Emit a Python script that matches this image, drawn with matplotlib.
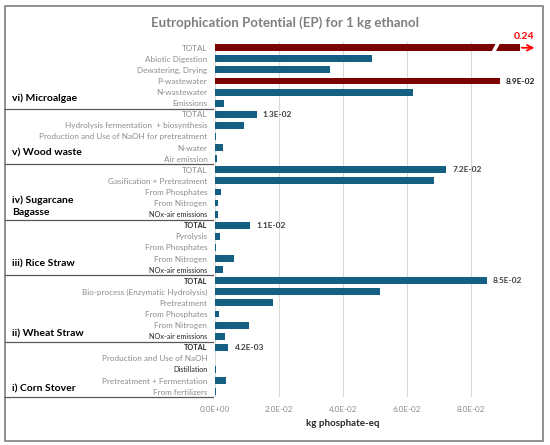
import numpy as np
import matplotlib
matplotlib.use("Agg")
from matplotlib import pyplot as plt
from matplotlib import transforms
from matplotlib.patches import Polygon, Rectangle
from matplotlib.lines import Line2D

plt.rcParams['font.family'] = ['Lato', 'DejaVu Sans']

# datos por grupo (de arriba hacia abajo)
microalgae_labels = ["TOTAL", "Abiotic Digestion", "Dewatering, Drying", "P-wastewater",
                     "N-wastewater", "Emissions"]
microalgae_values = [0.24, 0.049, 0.036, 0.089, 0.062, 0.0028]

wood_labels = ["TOTAL", "Hydrolysis fermentation  + biosynthesis",
               "Production and Use of NaOH for pretreatment", "N-water", "Air emission"]
wood_values = [0.013, 0.0091, 0.0004, 0.0025, 0.0007]

sugarcane_labels = ["TOTAL", "Gasification + Pretreatment", "From Phosphates",
                    "From Nitrogen", "NOx-air emissions"]
sugarcane_values = [0.0722, 0.0683, 0.002, 0.0008, 0.0008]

rice_labels = ["TOTAL", "Pyrolysis", "From Phosphates", "From Nitrogen", "NOx-air emissions"]
rice_values = [0.011, 0.0016, 0.0003, 0.0058, 0.0025]

wheat_labels = ["TOTAL", "Bio-process (Enzymatic Hydrolysis)", "Pretreatment",
                "From Phosphates", "From Nitrogen", "NOx-air emissions"]
wheat_values = [0.085, 0.0515, 0.018, 0.0012, 0.0106, 0.0031]

corn_labels = ["TOTAL", "Production and Use of NaOH", "Distillation",
               "Pretreatment + Fermentation", "From fertilizers"]
corn_values = [0.0042, 0.00005, 0.0004, 0.0033, 0.0002]

group_names = ["vi) Microalgae", "v) Wood waste", "iv) Sugarcane\nBagasse",
               "iii) Rice Straw", "ii) Wheat Straw", "i) Corn Stover"]
group_labels = [microalgae_labels, wood_labels, sugarcane_labels,
                rice_labels, wheat_labels, corn_labels]
group_values = [microalgae_values, wood_values, sugarcane_values,
                rice_values, wheat_values, corn_values]

# filas resaltadas en rojo y etiquetas oscuras
red_rows = [(0, "TOTAL"), (0, "P-wastewater")]
dark_rows = [(2, "NOx-air emissions"), (3, "TOTAL"), (3, "NOx-air emissions"),
             (4, "TOTAL"), (4, "NOx-air emissions"), (5, "TOTAL"), (5, "Distillation")]

xticks = [0.0, 0.02, 0.04, 0.06, 0.08]
x_max = 0.1
x_cut = 0.0953   # donde se corta la barra de 0.24

blue = '#156082'
red = '#7B0000'
gray = '#8C8C8C'
dark = '#262626'

labels, values, colors, lab_colors, lab_sizes, lab_weights = [], [], [], [], [], []
bounds = []
for g, (labs, vals) in enumerate(zip(group_labels, group_values)):
    for lab, v in zip(labs, vals):
        labels.append(lab)
        values.append(v)
        colors.append(red if (g, lab) in red_rows else blue)
        if (g, lab) in dark_rows:
            lab_colors.append(dark)
            lab_sizes.append(5.2)
            lab_weights.append('bold' if lab == "TOTAL" else 'normal')
        else:
            lab_colors.append(gray)
            lab_sizes.append(5.9)
            lab_weights.append('normal')
    bounds.append(len(labels) - 0.5)

y = np.arange(len(labels))
shown = np.minimum(values, x_cut)

fig = plt.figure(figsize=(5.5, 4.45), dpi=100)
ax = fig.add_axes([215/550, 1 - 397.2/445, 320/550, (397.2 - 42.2)/445])

bar_h = 0.62
ax.barh(y, shown, height=bar_h, color=colors, zorder=3)
ax.set_ylim(len(labels) - 0.5, -0.5)
ax.set_xlim(0, x_max)

ax.set_yticks(y)
ax.set_yticklabels(labels)
for t, c, s, w in zip(ax.get_yticklabels(), lab_colors, lab_sizes, lab_weights):
    t.set_color(c)
    t.set_fontsize(s)
    t.set_fontweight(w)
ax.tick_params(axis='y', length=0, pad=5.5)

ax.set_xticks(xticks)
ax.set_xticklabels([f"{v:.1E}" for v in xticks], color=gray, fontsize=5.9)
ax.tick_params(axis='x', length=0, pad=6)
ax.grid(axis='x', color='#D9D9D9', lw=0.8, zorder=0)
for s in ax.spines.values():
    s.set_visible(False)

ax.set_xlabel("kg phosphate-eq", fontsize=7, fontweight='bold', color=dark, labelpad=5)
ax.xaxis.label.set_x(0.04 / x_max)

# etiquetas de valores de los totales
for g, (labs, vals) in enumerate(zip(group_labels, group_values)):
    start = int(bounds[g] + 0.5) - len(labs)
    if g == 0:
        k = labs.index("P-wastewater")
        ax.text(vals[k] + 0.0019, start + k, f"{vals[k]:.1E}",
                va='center', ha='left', fontsize=6, fontweight='bold', color='#1A1A1A')
    else:
        ax.text(vals[0] + 0.0019, start, f"{vals[0]:.1E}",
                va='center', ha='left', fontsize=6, fontweight='bold', color='#404040')

# corte de la barra TOTAL de microalgas
h = bar_h / 2 + 0.05
ax.add_patch(Polygon([(0.0864, h), (0.0877, h), (0.0890, -h), (0.0877, -h)],
                     closed=True, facecolor='white', edgecolor='none', zorder=4))
ax.annotate("", xy=(0.1007, 0), xytext=(x_cut - 0.0003, 0),
            arrowprops=dict(arrowstyle='->', color='#FF0000', lw=1.3),
            annotation_clip=False, zorder=5)
ax.text(0.0967, -1.05, f"{microalgae_values[0]:.2f}", ha='center', va='center',
        fontsize=7.5, fontweight='bold', color='#FF0000', clip_on=False)

# nombres de grupos y separadores
blend = transforms.blended_transform_factory(fig.transFigure, ax.transData)
offsets = [0.45, 0.5, 0.75, 0.5, 0.2, 0.25]
for g, name in enumerate(group_names):
    ax.text(12/550, bounds[g] - 0.5 - offsets[g], name, transform=blend,
            ha='left', va='center', fontsize=7.5, fontweight='bold', color='black',
            linespacing=1.45)
    fig.add_artist(Line2D([5/550, 213/550], [bounds[g], bounds[g]], transform=blend,
                          color='#595959', lw=0.9))

fig.text(285/550, 1 - 23/445, "Eutrophication Potential (EP) for 1 kg ethanol",
         ha='center', va='center', fontsize=9.5, fontweight='bold', color='#7F7F7F')

fig.add_artist(Rectangle((5/550, 1 - 441/445), 538/550, 435/445, transform=fig.transFigure,
                         fill=False, edgecolor='#7F7F7F', lw=1.2))

fig.savefig("out.png", dpi=100)
